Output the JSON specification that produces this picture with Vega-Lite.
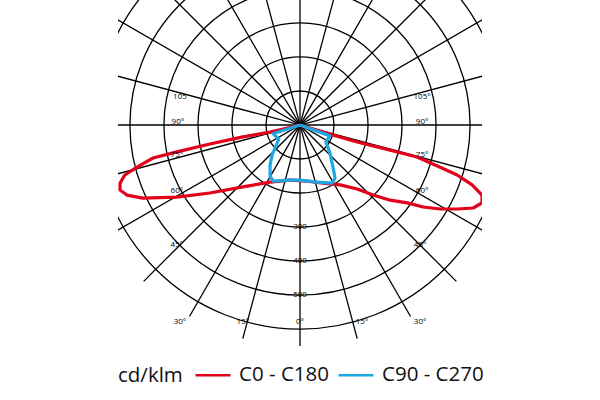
{
  "$schema": "https://vega.github.io/schema/vega-lite/v6.json",
  "width": 364,
  "height": 350,
  "autosize": {"type": "none"},
  "padding": {"left": 118, "top": 0, "right": 118, "bottom": 50},
  "background": "white",
  "config": {
    "view": {"stroke": null},
    "font": "Open Sans",
    "legend": {
      "orient": "bottom",
      "direction": "horizontal",
      "titleOrient": "left",
      "titleAnchor": "end",
      "titleBaseline": "bottom",
      "titleFontSize": 20.5,
      "titleFontWeight": "normal",
      "titleColor": "#111111",
      "titleFont": "Open Sans",
      "titlePadding": 11,
      "labelFontSize": 20.5,
      "labelColor": "#111111",
      "labelFont": "Open Sans",
      "labelOffset": 7,
      "columnPadding": 4,
      "symbolType": "stroke",
      "symbolSize": 1225,
      "symbolStrokeWidth": 2.5,
      "offset": 6,
      "padding": 0
    }
  },
  "datasets": {
    "rings": [{"r": 100}, {"r": 200}, {"r": 300}, {"r": 400}, {"r": 500}, {"r": 600}],
    "rays": [
      {"x": 0, "y": -650, "x2": 0, "y2": 650},
      {"x": 168.2, "y": -627.9, "x2": -168.2, "y2": 627.9},
      {"x": 325, "y": -562.9, "x2": -325, "y2": 562.9},
      {"x": 459.6, "y": -459.6, "x2": -459.6, "y2": 459.6},
      {"x": 562.9, "y": -325, "x2": -562.9, "y2": 325},
      {"x": 627.9, "y": -168.2, "x2": -627.9, "y2": 168.2},
      {"x": 650, "y": 0, "x2": -650, "y2": 0},
      {"x": 627.9, "y": 168.2, "x2": -627.9, "y2": -168.2},
      {"x": 562.9, "y": 325, "x2": -562.9, "y2": -325},
      {"x": 459.6, "y": 459.6, "x2": -459.6, "y2": -459.6},
      {"x": 325, "y": 562.9, "x2": -325, "y2": -562.9},
      {"x": 168.2, "y": 627.9, "x2": -168.2, "y2": -627.9}
    ],
    "curves": [
      {"series": "C0 - C180", "i": 0, "x": 0, "y": 0},
      {"series": "C0 - C180", "i": 1, "x": 68, "y": -21},
      {"series": "C0 - C180", "i": 2, "x": 168, "y": -50},
      {"series": "C0 - C180", "i": 3, "x": 265, "y": -74},
      {"series": "C0 - C180", "i": 4, "x": 344, "y": -94},
      {"series": "C0 - C180", "i": 5, "x": 412, "y": -124},
      {"series": "C0 - C180", "i": 6, "x": 462, "y": -147},
      {"series": "C0 - C180", "i": 7, "x": 506, "y": -176},
      {"series": "C0 - C180", "i": 8, "x": 535, "y": -206},
      {"series": "C0 - C180", "i": 9, "x": 535, "y": -229},
      {"series": "C0 - C180", "i": 10, "x": 509, "y": -244},
      {"series": "C0 - C180", "i": 11, "x": 462, "y": -247},
      {"series": "C0 - C180", "i": 12, "x": 412, "y": -247},
      {"series": "C0 - C180", "i": 13, "x": 362, "y": -241},
      {"series": "C0 - C180", "i": 14, "x": 315, "y": -229},
      {"series": "C0 - C180", "i": 15, "x": 265, "y": -221},
      {"series": "C0 - C180", "i": 16, "x": 215, "y": -206},
      {"series": "C0 - C180", "i": 17, "x": 168, "y": -188},
      {"series": "C0 - C180", "i": 18, "x": 118, "y": -176},
      {"series": "C0 - C180", "i": 19, "x": 68, "y": -171},
      {"series": "C0 - C180", "i": 20, "x": 21, "y": -165},
      {"series": "C0 - C180", "i": 21, "x": -29, "y": -162},
      {"series": "C0 - C180", "i": 22, "x": -88, "y": -168},
      {"series": "C0 - C180", "i": 23, "x": -168, "y": -182},
      {"series": "C0 - C180", "i": 24, "x": -265, "y": -200},
      {"series": "C0 - C180", "i": 25, "x": -362, "y": -212},
      {"series": "C0 - C180", "i": 26, "x": -462, "y": -215},
      {"series": "C0 - C180", "i": 27, "x": -509, "y": -206},
      {"series": "C0 - C180", "i": 28, "x": -529, "y": -191},
      {"series": "C0 - C180", "i": 29, "x": -529, "y": -171},
      {"series": "C0 - C180", "i": 30, "x": -515, "y": -147},
      {"series": "C0 - C180", "i": 31, "x": -479, "y": -124},
      {"series": "C0 - C180", "i": 32, "x": -432, "y": -97},
      {"series": "C0 - C180", "i": 33, "x": -362, "y": -79},
      {"series": "C0 - C180", "i": 34, "x": -265, "y": -56},
      {"series": "C0 - C180", "i": 35, "x": -168, "y": -35},
      {"series": "C0 - C180", "i": 36, "x": -88, "y": -21},
      {"series": "C0 - C180", "i": 37, "x": -24, "y": -6},
      {"series": "C0 - C180", "i": 38, "x": 0, "y": 0},
      {"series": "C90 - C270", "i": 0, "x": 0, "y": 0},
      {"series": "C90 - C270", "i": 1, "x": -79, "y": -26},
      {"series": "C90 - C270", "i": 2, "x": -62, "y": -41},
      {"series": "C90 - C270", "i": 3, "x": -71, "y": -62},
      {"series": "C90 - C270", "i": 4, "x": -82, "y": -88},
      {"series": "C90 - C270", "i": 5, "x": -88, "y": -118},
      {"series": "C90 - C270", "i": 6, "x": -88, "y": -150},
      {"series": "C90 - C270", "i": 7, "x": -79, "y": -165},
      {"series": "C90 - C270", "i": 8, "x": -35, "y": -162},
      {"series": "C90 - C270", "i": 9, "x": 0, "y": -162},
      {"series": "C90 - C270", "i": 10, "x": 50, "y": -168},
      {"series": "C90 - C270", "i": 11, "x": 94, "y": -171},
      {"series": "C90 - C270", "i": 12, "x": 103, "y": -156},
      {"series": "C90 - C270", "i": 13, "x": 97, "y": -124},
      {"series": "C90 - C270", "i": 14, "x": 88, "y": -82},
      {"series": "C90 - C270", "i": 15, "x": 76, "y": -50},
      {"series": "C90 - C270", "i": 16, "x": 88, "y": -32},
      {"series": "C90 - C270", "i": 17, "x": 0, "y": 0}
    ],
    "labels": [
      {"t": "105", "x": -353, "y": 82},
      {"t": "105°", "x": 359, "y": 82},
      {"t": "90°", "x": -359, "y": 9},
      {"t": "90°", "x": 359, "y": 9},
      {"t": "75°", "x": -362, "y": -88},
      {"t": "75°", "x": 359, "y": -88},
      {"t": "60°", "x": -362, "y": -194},
      {"t": "60°", "x": 359, "y": -194},
      {"t": "45°", "x": -362, "y": -353},
      {"t": "45°", "x": 353, "y": -353},
      {"t": "30°", "x": -353, "y": -579},
      {"t": "30°", "x": 353, "y": -579},
      {"t": "15°", "x": -168, "y": -579},
      {"t": "15°", "x": 182, "y": -579},
      {"t": "0°", "x": 0, "y": -579},
      {"t": "300", "x": 0, "y": -300},
      {"t": "400", "x": 0, "y": -400},
      {"t": "500", "x": 0, "y": -500}
    ]
  },
  "layer": [
    {
      "data": {"name": "rings"},
      "mark": {"type": "point", "shape": "circle", "filled": false, "stroke": "#000000", "strokeWidth": 1.3, "opacity": 1, "clip": true},
      "encoding": {
        "x": {"datum": 0, "type": "quantitative", "scale": {"domain": [-535, 535], "nice": false, "zero": false}, "axis": null},
        "y": {"datum": 0, "type": "quantitative", "scale": {"domain": [-661.4, 367.4], "nice": false, "zero": false}, "axis": null},
        "size": {"field": "r", "type": "quantitative", "scale": {"type": "pow", "exponent": 2, "domain": [0, 600], "range": [0, 166600]}, "legend": null}
      }
    },
    {
      "data": {"name": "rays"},
      "mark": {"type": "rule", "stroke": "#000000", "strokeWidth": 1.3, "clip": true},
      "encoding": {
        "x": {"field": "x", "type": "quantitative"},
        "y": {"field": "y", "type": "quantitative"},
        "x2": {"field": "x2"},
        "y2": {"field": "y2"}
      }
    },
    {
      "data": {"name": "curves"},
      "mark": {"type": "line", "strokeWidth": 3.2, "clip": true, "strokeJoin": "round"},
      "encoding": {
        "x": {"field": "x", "type": "quantitative"},
        "y": {"field": "y", "type": "quantitative"},
        "order": {"field": "i", "type": "quantitative"},
        "detail": {"field": "series"},
        "color": {
          "field": "series",
          "type": "nominal",
          "scale": {"domain": ["C0 - C180", "C90 - C270"], "range": ["#e2001a", "#1ea7e1"]},
          "legend": {"title": "cd/klm"}
        }
      }
    },
    {
      "data": {"name": "labels"},
      "mark": {"type": "text", "fontSize": 8, "color": "#000000", "align": "center", "baseline": "middle", "font": "Open Sans"},
      "encoding": {
        "x": {"field": "x", "type": "quantitative"},
        "y": {"field": "y", "type": "quantitative"},
        "text": {"field": "t"}
      }
    }
  ]
}
